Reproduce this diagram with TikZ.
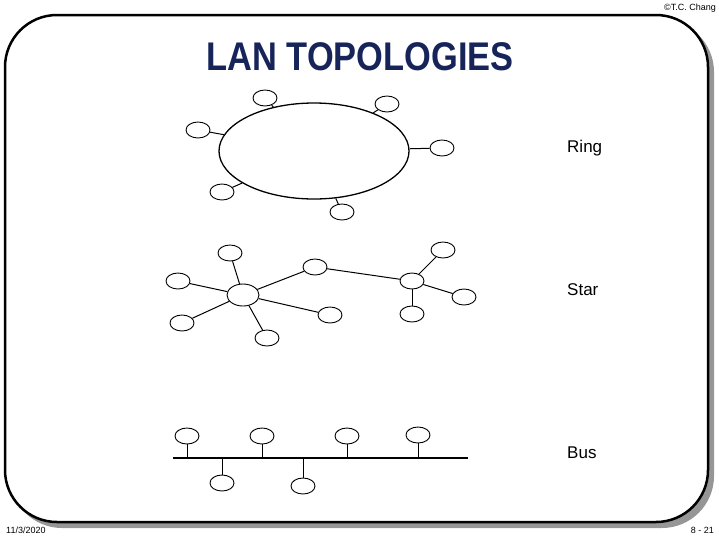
\documentclass[tikz,border=0pt]{standalone}
\usepackage{fontspec}
\setmainfont{Liberation Sans}
\usetikzlibrary{shapes.geometric, positioning, calc}
\definecolor{titleblue}{RGB}{22, 36, 90}
\definecolor{shadowgray}{RGB}{150, 150, 150}

\begin{document}
\begin{tikzpicture}[x=1pt, y=-1pt,
  station/.style={draw, ellipse, line width=0.9pt, minimum width=24pt, minimum height=16pt, inner sep=0pt},
  hub/.style={station, minimum width=32pt, minimum height=22pt},
  link/.style={line width=1pt},
  kind/.style={font=\fontsize{17}{19}\selectfont, anchor=west, inner sep=0pt},
  small/.style={font=\fontsize{9}{10}\selectfont, inner sep=0pt}
]
  \useasboundingbox (0,0) rectangle (719,539);
  % frame with shadow
  \fill[shadowgray, rounded corners=52pt] (10,20) rectangle (714,528);
  \draw[line width=2.5pt, fill=white, rounded corners=52pt] (5,15) rectangle (708,522);

  \node[small, anchor=east] (copy) at (716,8) {\textcopyright T.C. Chang};
  \node[font=\bfseries\fontsize{40}{44}\selectfont, text=titleblue] (title) at (360,57) {\scalebox{0.86}[1]{LAN TOPOLOGIES}};
  \node[small, anchor=west] (date) at (6,530) {11/3/2020};
  \node[small, anchor=east] (page) at (714,530) {8 - 21};

  % ring
  \node[draw, ellipse, line width=1.3pt, minimum width=190pt, minimum height=96pt] (ring) at (314,151) {};
  \node[station] (r1) at (265,98) {};
  \node[station] (r2) at (387,104) {};
  \node[station] (r3) at (198,130) {};
  \node[station] (r4) at (442,148) {};
  \node[station] (r5) at (222,192) {};
  \node[station] (r6) at (342,212) {};
  \foreach \n in {r1,r2,r3,r4,r5,r6}
    \draw[link] (\n) -- (ring);
  \node[kind] (ringlbl) at (567,148) {Ring};

  % star
  \node[hub] (hubA) at (243,295) {};
  \node[station] (hubB) at (412,281) {};
  \node[station] (sa1) at (230,253) {};
  \node[station] (sa2) at (178,281) {};
  \node[station] (sa3) at (182,323) {};
  \node[station] (sa4) at (267,338) {};
  \node[station] (sa5) at (330,315) {};
  \node[station] (mid) at (315,267) {};
  \node[station] (sb1) at (443,250) {};
  \node[station] (sb2) at (464,297) {};
  \node[station] (sb3) at (412,314) {};
  \foreach \n in {sa1,sa2,sa3,sa4,sa5,mid}
    \draw[link] (hubA) -- (\n);
  \draw[link] (mid) -- (hubB);
  \foreach \n in {sb1,sb2,sb3}
    \draw[link] (hubB) -- (\n);
  \node[kind] (starlbl) at (567,290) {Star};

  % bus
  \coordinate (busL) at (173,458);
  \coordinate (busR) at (468,458);
  \draw[line width=1.3pt] (busL) -- (busR);
  \node[station] (b1) at (187,436) {};
  \node[station] (b2) at (262,436) {};
  \node[station] (b3) at (347,436) {};
  \node[station] (b4) at (418,435) {};
  \node[station] (b5) at (222,483) {};
  \node[station] (b6) at (303,486) {};
  \foreach \n in {b1,b2,b3,b4}
    \draw[link] (\n.south) -- (\n.south |- busL);
  \foreach \n in {b5,b6}
    \draw[link] (\n.north) -- (\n.north |- busL);
  \node[kind] (buslbl) at (567,453) {Bus};
\end{tikzpicture}
\end{document}
